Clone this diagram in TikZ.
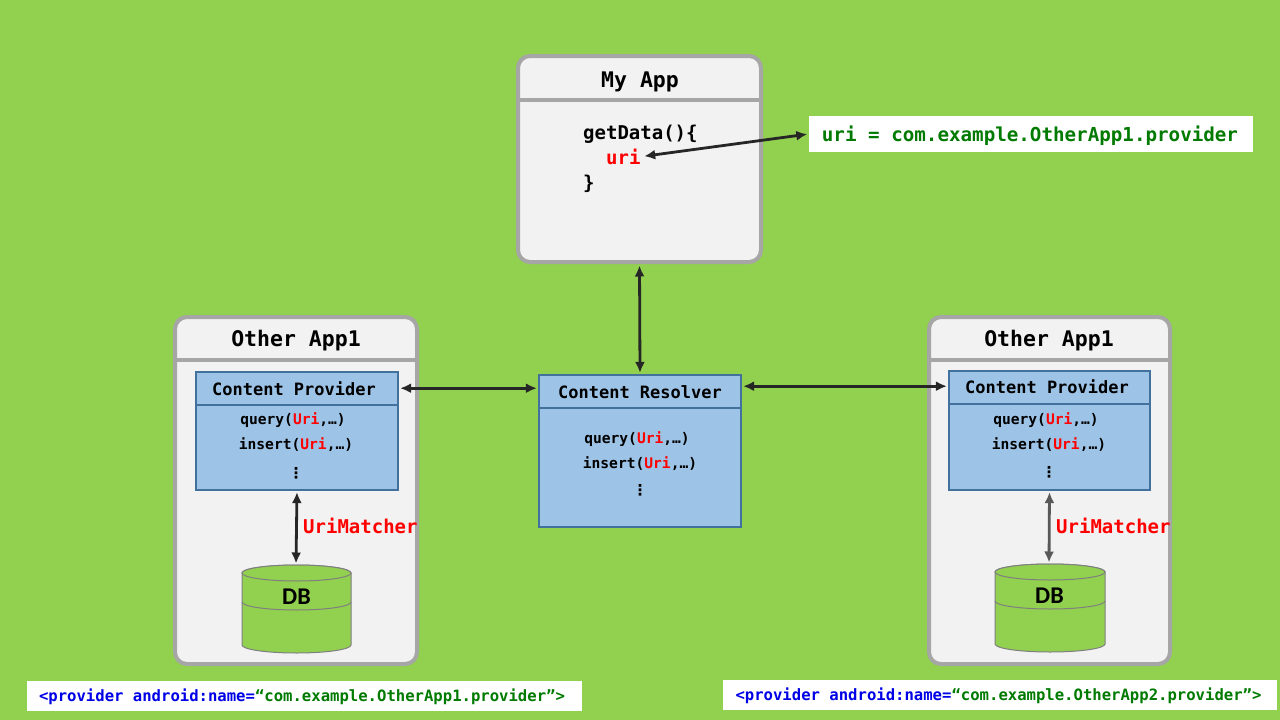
\documentclass[tikz,border=0pt]{standalone}
\usepackage{fontspec}
\setmonofont{DejaVu Sans Mono}
\newfontfamily\dbfont{Carlito}
\newfontfamily\dotsfont{DejaVu Sans}
\usetikzlibrary{arrows.meta}
\definecolor{bg}{HTML}{92D050}
\definecolor{boxgray}{HTML}{A6A6A6}
\definecolor{boxfill}{HTML}{F2F2F2}
\definecolor{bluefill}{HTML}{9DC3E6}
\definecolor{bluebord}{HTML}{41719C}
\definecolor{arrowdark}{HTML}{262626}
\definecolor{arrowgray}{HTML}{595959}
\definecolor{codegreen}{HTML}{007A00}
\definecolor{codeblue}{HTML}{0000E6}
\definecolor{cylbord}{HTML}{7F7F7F}
\tikzset{
  appbox/.style={draw=boxgray, line width=4pt, fill=boxfill, rounded corners=12pt, inner sep=0pt},
  sepline/.style={draw=boxgray, line width=4pt},
  bluebox/.style={draw=bluebord, line width=1.2pt, fill=bluefill, inner sep=0pt},
  blueline/.style={draw=bluebord, line width=1.2pt},
  codebox/.style={fill=white, inner sep=0pt},
  mono/.style={font=\ttfamily\bfseries\fontsize{#1}{#1}\selectfont, inner sep=0pt},
  link/.style={{Latex[length=11pt,width=10pt]}-{Latex[length=11pt,width=10pt]}, line width=2.8pt, draw=arrowdark, shorten <=1.5pt, shorten >=1.5pt},
  cyl/.style={draw=cylbord, line width=1pt, fill=bg},
}
\begin{document}
\begin{tikzpicture}[x=1pt,y=-1pt]
\fill[bg] (0,0) rectangle (1280,720);
\useasboundingbox (0,0) rectangle (1280,720);

% ---------- My App ----------
\node[appbox, minimum width=243pt, minimum height=206pt] (myapp) at (639.5,159) {};
\draw[sepline] (myapp.west |- 0,100) -- (myapp.east |- 0,100);
\node[mono=21.5, anchor=base] (myapptitle) at (640,87) {My App};
\node[mono=19, anchor=base west] (getdata) at (583,139) {getData()\{};
\node[mono=19, anchor=base west, text=red] (uritext) at (606,164) {uri};
\node[mono=19, anchor=base west] (closebr) at (583,189) {\}};

% uri box
\node[codebox, minimum width=444pt, minimum height=36pt] (uribox) at (1031,134) {};
\node[mono=19.2, anchor=base, text=codegreen] (uriboxtext) at (1030,141) {uri = com.example.OtherApp1.provider};
\draw[link] (uribox.west) -- ([xshift=2pt]uritext.east);

% ---------- Content Resolver ----------
\node[bluebox, minimum width=202pt, minimum height=152pt] (resolver) at (640,451) {};
\draw[blueline] (resolver.west |- 0,408) -- (resolver.east |- 0,408);
\node[mono=17, anchor=base] (restitle) at (640,398) {Content Resolver};
\node[mono=14.6, anchor=base] (resq) at (637,443) {query(\textcolor{red}{Uri},…)};
\node[mono=14.6, anchor=base] (resi) at (640,468) {insert(\textcolor{red}{Uri},…)};
\node[font=\dotsfont\bfseries\fontsize{15}{15}\selectfont, inner sep=0pt] (resd) at (640,490) {⋮};

\draw[link] (myapp.south) -- (resolver.north);

% ---------- Other App1 (left) ----------
\node[appbox, minimum width=242pt, minimum height=347pt] (lapp) at (296,490.5) {};
\draw[sepline] (lapp.west |- 0,360) -- (lapp.east |- 0,360);
\node[mono=21.5, anchor=base] (lapptitle) at (296,346) {Other App1};
\node[bluebox, minimum width=202pt, minimum height=118pt] (lcp) at (297,431) {};
\draw[blueline] (lcp.west |- 0,405) -- (lcp.east |- 0,405);
\node[mono=17, anchor=base] (lcptitle) at (294,395) {Content Provider};
\node[mono=14.6, anchor=base] (lcpq) at (293,424) {query(\textcolor{red}{Uri},…)};
\node[mono=14.6, anchor=base] (lcpi) at (296,449) {insert(\textcolor{red}{Uri},…)};
\node[font=\dotsfont\bfseries\fontsize{15}{15}\selectfont, inner sep=0pt] (lcpd) at (296,473) {⋮};
% DB left
\draw[cyl] (242,573) -- (242,645) arc[start angle=180, end angle=360, x radius=54.5pt, y radius=8pt] -- (351,573)
  arc[start angle=0, end angle=180, x radius=54.5pt, y radius=8pt] -- cycle;
\draw[cyl] (296.5,573) ellipse[x radius=54.5pt, y radius=8pt];
\draw[draw=cylbord, line width=1pt] (242,602) arc[start angle=180, end angle=360, x radius=54.5pt, y radius=8pt];
\coordinate (ldbtop) at (296,565);
\node[font=\dbfont\bfseries\fontsize{24}{24}\selectfont, anchor=base, inner sep=0pt] (ldb) at (296.5,604) {DB};
\draw[link] (lcp.south) -- (ldbtop);
\node[mono=19, anchor=base west, text=red] (lum) at (303,533) {UriMatcher};

\draw[link] (lcp.east |- lcptitle.center) -- (resolver.west |- lcptitle.center);

% ---------- Other App1 (right) ----------
\node[appbox, minimum width=241pt, minimum height=347pt] (rapp) at (1049.5,490.5) {};
\draw[sepline] (rapp.west |- 0,360) -- (rapp.east |- 0,360);
\node[mono=21.5, anchor=base] (rapptitle) at (1049,346) {Other App1};
\node[bluebox, minimum width=201pt, minimum height=119pt] (rcp) at (1049.5,430.5) {};
\draw[blueline] (rcp.west |- 0,404) -- (rcp.east |- 0,404);
\node[mono=17, anchor=base] (rcptitle) at (1047,393) {Content Provider};
\node[mono=14.6, anchor=base] (rcpq) at (1046,424) {query(\textcolor{red}{Uri},…)};
\node[mono=14.6, anchor=base] (rcpi) at (1049,449) {insert(\textcolor{red}{Uri},…)};
\node[font=\dotsfont\bfseries\fontsize{15}{15}\selectfont, inner sep=0pt] (rcpd) at (1049,472) {⋮};
% DB right
\draw[cyl] (995,572) -- (995,644) arc[start angle=180, end angle=360, x radius=55pt, y radius=8pt] -- (1105,572)
  arc[start angle=0, end angle=180, x radius=55pt, y radius=8pt] -- cycle;
\draw[cyl] (1050,572) ellipse[x radius=55pt, y radius=8pt];
\draw[draw=cylbord, line width=1pt] (995,601) arc[start angle=180, end angle=360, x radius=55pt, y radius=8pt];
\coordinate (rdbtop) at (1049,564);
\node[font=\dbfont\bfseries\fontsize{24}{24}\selectfont, anchor=base, inner sep=0pt] (rdb) at (1049.5,603) {DB};
\draw[link, draw=arrowgray] (rcp.south) -- (rdbtop);
\node[mono=19, anchor=base west, text=red] (rum) at (1056,533) {UriMatcher};

\draw[link] (resolver.east |- rcptitle.center) -- (rcp.west |- rcptitle.center);

% ---------- bottom code boxes ----------
\node[codebox, minimum width=555pt, minimum height=30pt] (lcode) at (304.5,696) {};
\node[mono=15.6, anchor=base] (lcodetext) at (302,701) {\textcolor{codeblue}{<provider android:name=}\textcolor{codegreen}{“com.example.OtherApp1.provider”>}};
\node[codebox, minimum width=554pt, minimum height=30pt] (rcode) at (1000,695) {};
\node[mono=15.6, anchor=base] (rcodetext) at (998.5,700) {\textcolor{codeblue}{<provider android:name=}\textcolor{codegreen}{“com.example.OtherApp2.provider”>}};
\end{tikzpicture}
\end{document}
